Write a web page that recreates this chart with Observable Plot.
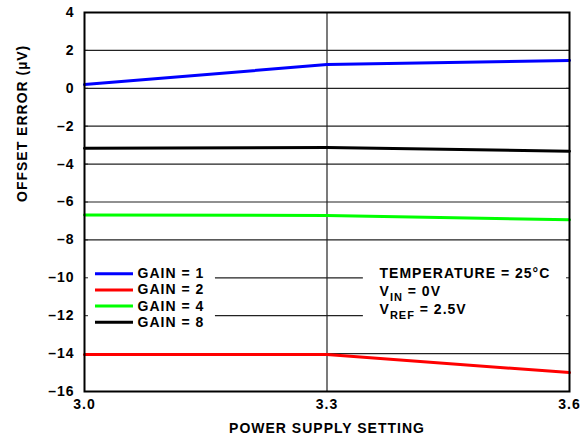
<!DOCTYPE html>
<html>
<head>
<meta charset="utf-8">
<script src="https://cdn.jsdelivr.net/npm/d3@7"></script>
<script src="https://cdn.jsdelivr.net/npm/@observablehq/plot@0.6"></script>
<style>
  html, body { margin: 0; padding: 0; background: #fff; }
  #chart { width: 587px; height: 444px; }
</style>
</head>
<body>
<div id="chart"></div>
<script>
// ---- data ----
const supply = [3.0, 3.3, 3.6];
const gain1 = [0.2, 1.25, 1.47];
const gain2 = [-14.05, -14.05, -15.0];
const gain4 = [-6.68, -6.71, -6.94];
const gain8 = [-3.16, -3.13, -3.32];
const seriesNames = ["GAIN = 1", "GAIN = 2", "GAIN = 4", "GAIN = 8"];
const seriesColors = ["#0000ff", "#ff0000", "#00ff00", "#000000"];
const xTicks = [3.0, 3.3, 3.6];
const yTicks = [-16, -14, -12, -10, -8, -6, -4, -2, 0, 2, 4];
const fullGrid = [-14, -8, -6, -4, -2, 0, 2];
const brokenGrid = [-10, -12];
const xLabel = "POWER SUPPLY SETTING";
const yLabel = "OFFSET ERROR (\u00b5V)";
const annotation = [
  {base: "TEMPERATURE = 25\u00b0C", sub: "", rest: ""},
  {base: "V", sub: "IN", rest: " = 0V"},
  {base: "V", sub: "REF", rest: " = 2.5V"}
];

// ---- layout constants (data units) ----
const gridGap = [3.162, 3.345];
const legendX = [3.0136, 3.0606, 3.0656];
const legendTop = -9.79, legendStep = 0.85;
const annoX = 3.365, annoTop = -9.77, annoStep = 0.95;

const all = [gain1, gain2, gain4, gain8];
const rows = [];
all.forEach((vals, i) => vals.forEach((v, j) => rows.push({x: supply[j], y: v, s: seriesNames[i]})));
const legend = seriesNames.map((s, i) => ({s, c: seriesColors[i], y: legendTop - i * legendStep}));
const anno = annotation.map((a, i) => ({...a, y: annoTop - i * annoStep}));

const plot = Plot.plot({
  width: 587,
  height: 444,
  marginLeft: 84,
  marginRight: 18,
  marginTop: 12,
  marginBottom: 53,
  style: {fontFamily: "'Liberation Sans', Arial, sans-serif", fontSize: "14px", fontWeight: "bold", letterSpacing: "1px", background: "#fff", color: "#000"},
  x: {domain: [3.0, 3.6]},
  y: {domain: [-16, 4]},
  marks: [
    Plot.ruleY(fullGrid, {stroke: "#222", strokeWidth: 1.2}),
    Plot.ruleY(brokenGrid, {x1: gridGap[0], x2: gridGap[1], stroke: "#222", strokeWidth: 1.2}),
    Plot.ruleX([3.3], {stroke: "#222", strokeWidth: 1.2}),
    Plot.axisY({anchor: "left", ticks: yTicks, tickSize: -4, tickFormat: () => "", label: null, stroke: "#222"}),
    Plot.axisY({anchor: "right", ticks: yTicks, tickSize: -4, tickFormat: () => "", label: null, stroke: "#222"}),
    Plot.axisY({anchor: "left", ticks: yTicks, tickSize: 0, tickPadding: 10, tickFormat: d => d < 0 ? "\u2013" + Math.abs(d) : String(d), label: null, fontSize: 14}),
    Plot.axisX({anchor: "bottom", ticks: xTicks, tickSize: 0, tickPadding: 8, tickFormat: d3.format(".1f"), label: null, fontSize: 14}),
    Plot.line(rows, {x: "x", y: "y", z: "s", stroke: d => seriesColors[seriesNames.indexOf(d.s)], strokeWidth: 3}),
    Plot.ruleY(legend, {y: "y", x1: legendX[0], x2: legendX[1], stroke: "c", strokeWidth: 3}),
    Plot.text(legend, {x: legendX[2], y: "y", text: "s", textAnchor: "start", fontSize: 14}),
    Plot.text(anno, {x: annoX, y: "y", text: d => d.base + d.sub + d.rest, textAnchor: "start", fontSize: 14}),
    Plot.frame({stroke: "#000", strokeWidth: 2}),
    Plot.text([xLabel], {frameAnchor: "bottom", dy: 41, text: d => d, fontSize: 14}),
    Plot.text([yLabel], {frameAnchor: "left", dx: -62, rotate: -90, text: d => d, fontSize: 14})
  ]
});

// subscripts for annotation lines
plot.querySelectorAll("text").forEach(t => {
  const a = annotation.find(a => a.sub && t.textContent === a.base + a.sub + a.rest);
  if (!a) return;
  t.textContent = "";
  const ns = "http://www.w3.org/2000/svg";
  const t1 = document.createElementNS(ns, "tspan"); t1.textContent = a.base;
  const t2 = document.createElementNS(ns, "tspan"); t2.textContent = a.sub;
  t2.setAttribute("dy", "5"); t2.setAttribute("font-size", "11");
  const t3 = document.createElementNS(ns, "tspan"); t3.textContent = a.rest;
  t3.setAttribute("dy", "-5");
  t.append(t1, t2, t3);
});

document.getElementById("chart").appendChild(plot);
</script>
</body>
</html>
